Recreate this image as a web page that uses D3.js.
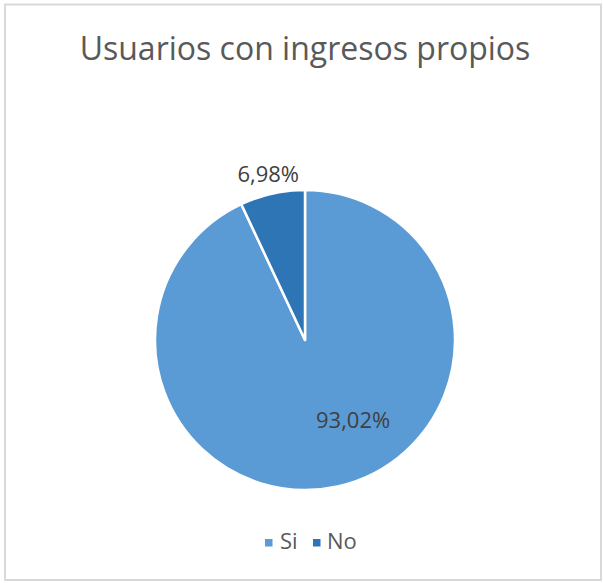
<!DOCTYPE html>
<html>
<head>
<meta charset="utf-8">
<script src="https://cdn.jsdelivr.net/npm/d3@7"></script>
<style>
  html, body { margin: 0; padding: 0; background: #fff; }
  svg { display: block; font-family: "Open Sans", sans-serif; }
</style>
</head>
<body>
<svg id="chart" width="603" height="583"></svg>
<script>
const title = "Usuarios con ingresos propios";
const categories = ["Si", "No"];
const values = [93.02, 6.98];
const colors = ["#5B9BD5", "#2E75B6"];

const svg = d3.select("#chart");
const W = 603, H = 583;

// frame
svg.append("rect")
  .attr("x", 5).attr("y", 4.5)
  .attr("width", 596).attr("height", 575.5)
  .attr("fill", "#fff")
  .attr("stroke", "#D9D9D9").attr("stroke-width", 2);

// title
svg.append("text")
  .attr("x", 305).attr("y", 60)
  .attr("text-anchor", "middle")
  .attr("font-size", 32)
  .attr("fill", "#595959")
  .text(title);

const cx = 305, cy = 340, R = 150;
const data = categories.map((c, i) => ({ cat: c, value: values[i], color: colors[i] }));
const pie = d3.pie().sort(null).value(d => d.value);
const arcs = pie(data);
const arc = d3.arc().innerRadius(0).outerRadius(R);

const g = svg.append("g").attr("transform", `translate(${cx},${cy})`);
g.selectAll("path.slice")
  .data(arcs)
  .join("path")
  .attr("class", "slice")
  .attr("d", arc)
  .attr("fill", d => d.data.color)
  .attr("stroke", "#fff")
  .attr("stroke-width", 2.5)
  .attr("stroke-linejoin", "round");

const fmt = v => d3.format(".2f")(v).replace(".", ",") + "%";

// labels: "No" outside along its mid angle, "Si" inside (best-fit style)
const outerLabelArc = d3.arc().innerRadius(R + 19).outerRadius(R + 19);
g.selectAll("text.lbl")
  .data(arcs)
  .join("text")
  .attr("class", "lbl")
  .attr("text-anchor", "middle")
  .attr("font-size", 22)
  .attr("fill", "#404040")
  .attr("transform", (d, i) => {
    if (i === 1) {
      const [x, y] = outerLabelArc.centroid(d);
      return `translate(${x},${y + 7})`;
    }
    const ang = 149.4 * Math.PI / 180, rr = 0.63 * R;
    return `translate(${rr * Math.sin(ang)},${-rr * Math.cos(ang) + 7})`;
  })
  .text(d => fmt(d.data.value));

// legend
const legend = svg.append("g");
const items = [{ x: 265, tx: 280 }, { x: 313, tx: 327 }];
data.forEach((d, i) => {
  legend.append("rect")
    .attr("x", items[i].x).attr("y", 539)
    .attr("width", 7.5).attr("height", 7.5)
    .attr("fill", d.color);
  legend.append("text")
    .attr("x", items[i].tx).attr("y", 549)
    .attr("font-size", 22)
    .attr("fill", "#595959")
    .text(d.cat);
});
</script>
</body>
</html>
